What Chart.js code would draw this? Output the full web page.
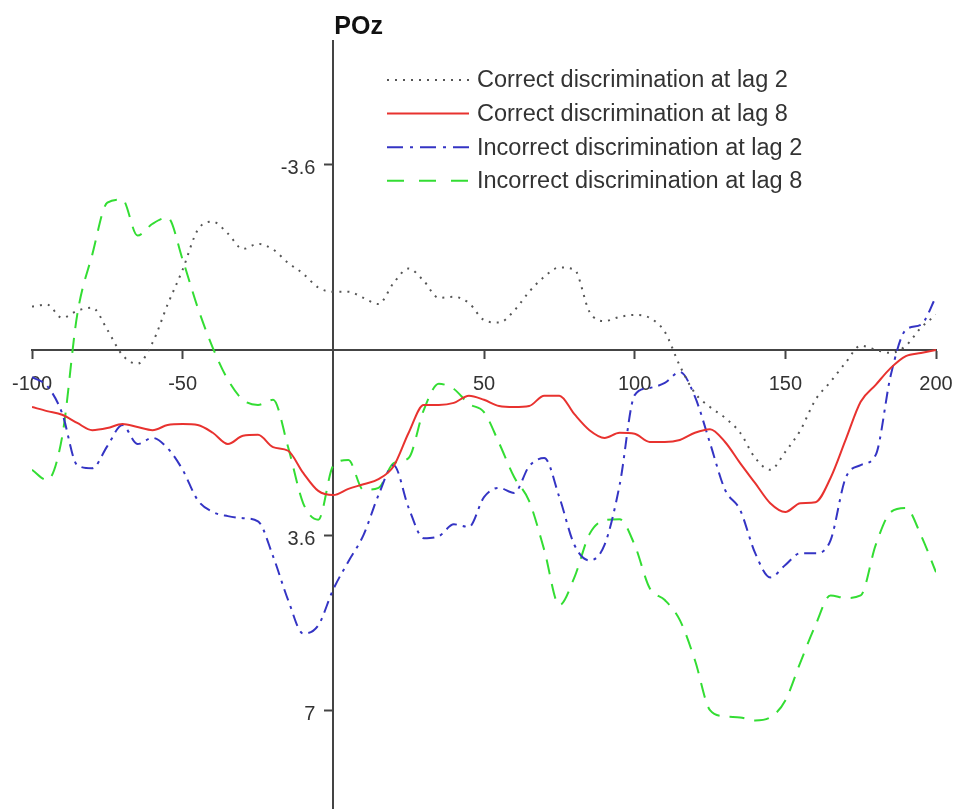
<!DOCTYPE html>
<html>
<head>
<meta charset="utf-8">
<title>POz</title>
<script src="https://cdn.jsdelivr.net/npm/chart.js@4.4.1/dist/chart.umd.min.js"></script>
<style>
  html, body { margin: 0; padding: 0; background: #fff; }
  #wrap { width: 958px; height: 810px; position: relative; }
</style>
</head>
<body>
<div id="wrap"><canvas id="pozChart"></canvas></div>
<script>
// time axis (ms), one sample every 5 ms
const times = [
  -100, -95, -90, -85, -80, -75, -70, -65, -60, -55,
  -50, -45, -40, -35, -30, -25, -20, -15, -10, -5,
  0, 5, 10, 15, 20, 25, 30, 35, 40, 45,
  50, 55, 60, 65, 70, 75, 80, 85, 90, 95,
  100, 105, 110, 115, 120, 125, 130, 135, 140, 145,
  150, 155, 160, 165, 170, 175, 180, 185, 190, 195, 200
];

// amplitudes (uV), negative plotted up
const correctLag2 = [
  -0.84, -0.88, -0.62, -0.76, -0.82, -0.39, 0.10, 0.27, -0.14, -0.88,
  -1.56, -2.33, -2.49, -2.26, -1.96, -2.06, -1.95, -1.69, -1.48, -1.21,
  -1.13, -1.13, -1.01, -0.89, -1.30, -1.58, -1.34, -1.01, -1.03, -0.91,
  -0.58, -0.53, -0.76, -1.13, -1.42, -1.60, -1.56, -0.74, -0.56, -0.64,
  -0.68, -0.62, -0.35, 0.31, 0.84, 1.11, 1.32, 1.61, 2.10, 2.33,
  1.98, 1.56, 0.97, 0.62, 0.25, -0.08, 0.00, 0.06, -0.08, -0.43, -0.68
];
const correctLag8 = [
  1.11, 1.19, 1.26, 1.42, 1.56, 1.52, 1.44, 1.50, 1.56, 1.46,
  1.44, 1.46, 1.61, 1.83, 1.67, 1.65, 1.89, 1.96, 2.39, 2.74,
  2.82, 2.70, 2.61, 2.51, 2.26, 1.61, 1.07, 1.07, 1.03, 0.89,
  0.97, 1.09, 1.11, 1.09, 0.89, 0.89, 1.25, 1.56, 1.71, 1.61,
  1.63, 1.79, 1.79, 1.75, 1.61, 1.54, 1.79, 2.20, 2.59, 2.98,
  3.15, 2.98, 2.96, 2.49, 1.75, 1.01, 0.68, 0.35, 0.12, 0.06, 0.00
];
const incorrectLag2 = [
  0.53, 0.70, 1.23, 2.24, 2.30, 1.87, 1.46, 1.83, 1.71, 1.91,
  2.33, 2.92, 3.15, 3.23, 3.27, 3.33, 4.01, 4.86, 5.51, 5.35,
  4.65, 4.11, 3.60, 2.82, 2.24, 3.07, 3.66, 3.62, 3.39, 3.44,
  2.86, 2.68, 2.78, 2.26, 2.10, 2.86, 3.79, 4.09, 3.79, 2.63,
  0.88, 0.74, 0.64, 0.43, 0.91, 1.81, 2.72, 3.11, 3.95, 4.42,
  4.18, 3.95, 3.95, 3.70, 2.49, 2.24, 2.04, 0.49, -0.39, -0.49, -1.03
];
const incorrectLag8 = [
  2.33, 2.53, 1.69, -0.68, -1.85, -2.86, -2.92, -2.22, -2.45, -2.57,
  -1.75, -0.82, -0.04, 0.58, 0.97, 1.07, 0.97, 1.89, 2.98, 3.30,
  2.25, 2.14, 2.72, 2.68, 2.20, 2.10, 1.17, 0.66, 0.76, 1.05,
  1.21, 1.81, 2.47, 2.94, 3.89, 4.96, 4.42, 3.58, 3.31, 3.29,
  3.79, 4.63, 4.86, 5.25, 6.03, 7.00, 7.12, 7.14, 7.20, 7.14,
  6.81, 6.07, 5.35, 4.77, 4.82, 4.77, 3.79, 3.15, 3.07, 3.60, 4.32
];

const seriesLabels = [
  'Correct discrimination at lag 2',
  'Correct discrimination at lag 8',
  'Incorrect discrimination at lag 2',
  'Incorrect discrimination at lag 8'
];

const xTickValues = [-100, -50, 50, 100, 150, 200];
const yTickValues = [-3.6, 3.6, 7];

const FONT = '"Liberation Sans", Arial, Helvetica, sans-serif';
const TEXT = '#333333';
const AXIS = '#444444';

// the legend samples use longer dashes than the plotted curves
const legendDashes = [[2, 6], [], [16, 7, 3, 7], [17, 15]];

function toPoints(values) {
  return values.map((v, i) => ({ x: times[i], y: v }));
}

// y tick labels, channel name and legend, drawn beside the crossing axes
const annotatePlugin = {
  id: 'annotate',
  afterDraw(chart) {
    const ctx = chart.ctx;
    const area = chart.chartArea;
    const yScale = chart.scales.y;
    const x0 = chart.scales.x.getPixelForValue(0);
    ctx.save();

    // y labels sit left of the tick marks
    ctx.fillStyle = TEXT;
    ctx.font = '20px ' + FONT;
    ctx.textAlign = 'right';
    ctx.textBaseline = 'middle';
    yTickValues.forEach(v => {
      ctx.fillText(String(v), x0 - 18, yScale.getPixelForValue(v) + 4);
    });

    ctx.fillStyle = '#111';
    ctx.font = 'bold 25px ' + FONT;
    ctx.textAlign = 'left';
    ctx.textBaseline = 'alphabetic';
    ctx.fillText('POz', x0 + 1, area.top - 7);

    chart.data.datasets.forEach((ds, i) => {
      const y = 80 + i * 33.6;
      ctx.beginPath();
      ctx.setLineDash(legendDashes[i]);
      ctx.lineWidth = ds.borderWidth;
      ctx.strokeStyle = ds.borderColor;
      ctx.moveTo(387, y);
      ctx.lineTo(469, y);
      ctx.stroke();
      ctx.setLineDash([]);
      ctx.fillStyle = TEXT;
      ctx.font = '23.5px ' + FONT;
      ctx.textBaseline = 'middle';
      ctx.fillText(ds.label, 477, y + 1);
    });
    ctx.restore();
  }
};

const ctx = document.getElementById('pozChart');

new Chart(ctx, {
  type: 'line',
  data: {
    datasets: [
      {
        label: seriesLabels[0],
        data: toPoints(correctLag2),
        borderColor: '#555555',
        borderWidth: 2,
        borderDash: [2, 6]
      },
      {
        label: seriesLabels[1],
        data: toPoints(correctLag8),
        borderColor: '#e8322f',
        borderWidth: 2
      },
      {
        label: seriesLabels[2],
        data: toPoints(incorrectLag2),
        borderColor: '#3434c4',
        borderWidth: 2,
        borderDash: [12, 6, 3, 6]
      },
      {
        label: seriesLabels[3],
        data: toPoints(incorrectLag8),
        borderColor: '#33dd33',
        borderWidth: 2,
        borderDash: [15, 10]
      }
    ]
  },
  options: {
    responsive: true,
    maintainAspectRatio: false,
    animation: false,
    events: [],
    elements: {
      point: { radius: 0 },
      line: { cubicInterpolationMode: 'monotone', fill: false }
    },
    layout: {
      padding: { left: 32, right: 22, top: 41, bottom: 2 }
    },
    plugins: {
      legend: { display: false },
      tooltip: { enabled: false },
      title: { display: false }
    },
    scales: {
      x: {
        type: 'linear',
        position: { y: 0 },
        min: -100,
        max: 200,
        afterBuildTicks: scale => {
          scale.ticks = xTickValues.map(v => ({ value: v }));
        },
        afterFit: scale => {
          scale.paddingLeft = 0;
          scale.paddingRight = 0;
        },
        grid: {
          drawOnChartArea: false,
          drawTicks: true,
          tickLength: 8,
          tickWidth: 2,
          tickColor: AXIS
        },
        border: { color: AXIS, width: 2 },
        ticks: {
          color: TEXT,
          padding: 15,
          maxRotation: 0,
          autoSkip: false,
          font: { family: FONT, size: 20 }
        }
      },
      y: {
        type: 'linear',
        position: { x: 0 },
        reverse: true,
        min: -6,
        max: 8.9,
        afterBuildTicks: scale => {
          scale.ticks = yTickValues.map(v => ({ value: v }));
        },
        afterFit: scale => {
          scale.paddingTop = 0;
          scale.paddingBottom = 0;
        },
        grid: {
          drawOnChartArea: false,
          drawTicks: true,
          tickLength: 8,
          tickWidth: 2,
          tickColor: AXIS
        },
        border: { color: AXIS, width: 2 },
        ticks: { display: false }
      }
    }
  },
  plugins: [annotatePlugin]
});
</script>
</body>
</html>
